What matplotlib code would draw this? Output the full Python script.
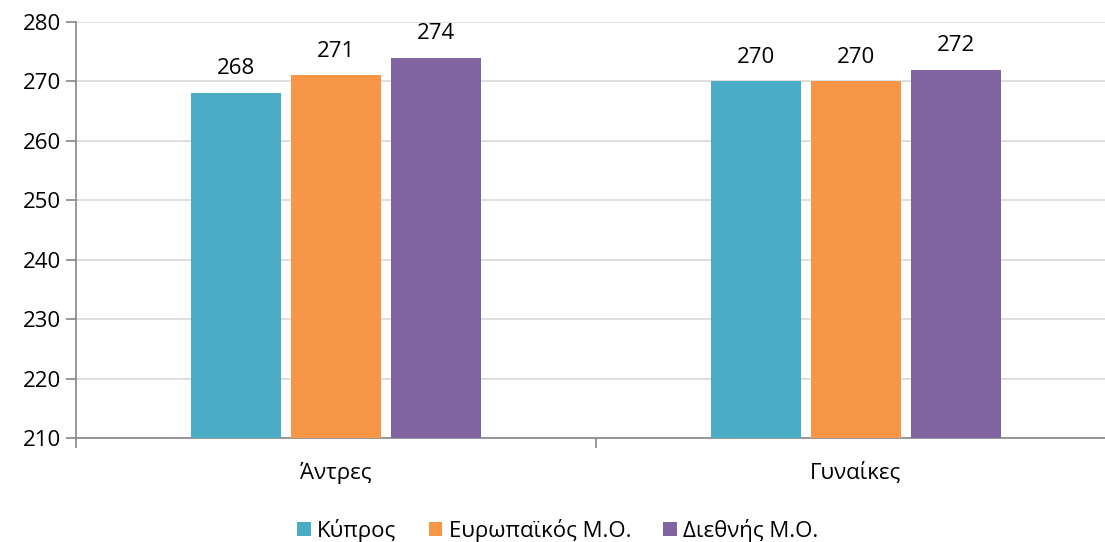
import matplotlib.pyplot as plt
import numpy as np

# Data
groups = ["Άντρες", "Γυναίκες"]
series = ["Κύπρος", "Ευρωπαϊκός Μ.Ο.", "Διεθνής Μ.Ο."]
cyprus = [268, 270]
europe = [271, 270]
intl = [274, 272]
colors = ["#4BACC6", "#F79646", "#8064A2"]

plt.rcParams["font.family"] = ["Open Sans", "DejaVu Sans"]
plt.rcParams["font.size"] = 16

fig = plt.figure(figsize=(11.05, 5.42), dpi=100)
ax = fig.add_axes([76 / 1105, 104 / 542, 1040 / 1105, 416 / 542])

x = np.arange(len(groups))
step = 100 / 520
width = 90 / 520
for k, (vals, name, c) in enumerate(zip([cyprus, europe, intl], series, colors)):
    ax.bar(x + (k - 1) * step, np.array(vals) - 210, width=width, bottom=210,
           color=c, label=name, zorder=3)
    for xi, v in zip(x + (k - 1) * step, vals):
        ax.annotate(f"{v}", (xi, v), xytext=(0, 10), textcoords="offset points",
                    ha="center", va="bottom", fontsize=16)

ax.set_xlim(-0.5, 1.5)
ax.set_ylim(210, 280)
ax.set_yticks(range(210, 281, 10))
ax.yaxis.grid(True, color="#D9D9D9", linewidth=1.2, zorder=0)
ax.set_axisbelow(True)

ax.set_xticks(x)
ax.set_xticklabels(groups)
ax.set_xticks([-0.5, 0.5, 1.5], minor=True)
ax.tick_params(axis="x", which="major", length=0, pad=17)
ax.tick_params(axis="x", which="minor", length=7, color="#868686", width=1.2)
ax.tick_params(axis="y", length=7, color="#868686", width=1.2, pad=4)

for s in ["top", "right"]:
    ax.spines[s].set_visible(False)
for s in ["left", "bottom"]:
    ax.spines[s].set_color("#868686")
    ax.spines[s].set_linewidth(1.2)

fig.legend(loc="lower center", bbox_to_anchor=(0.505, -0.036), ncol=3, frameon=False,
           handlelength=0.6, handleheight=0.6, handletextpad=0.3, columnspacing=1.45,
           fontsize=16)

fig.savefig("out.png", dpi=100)
